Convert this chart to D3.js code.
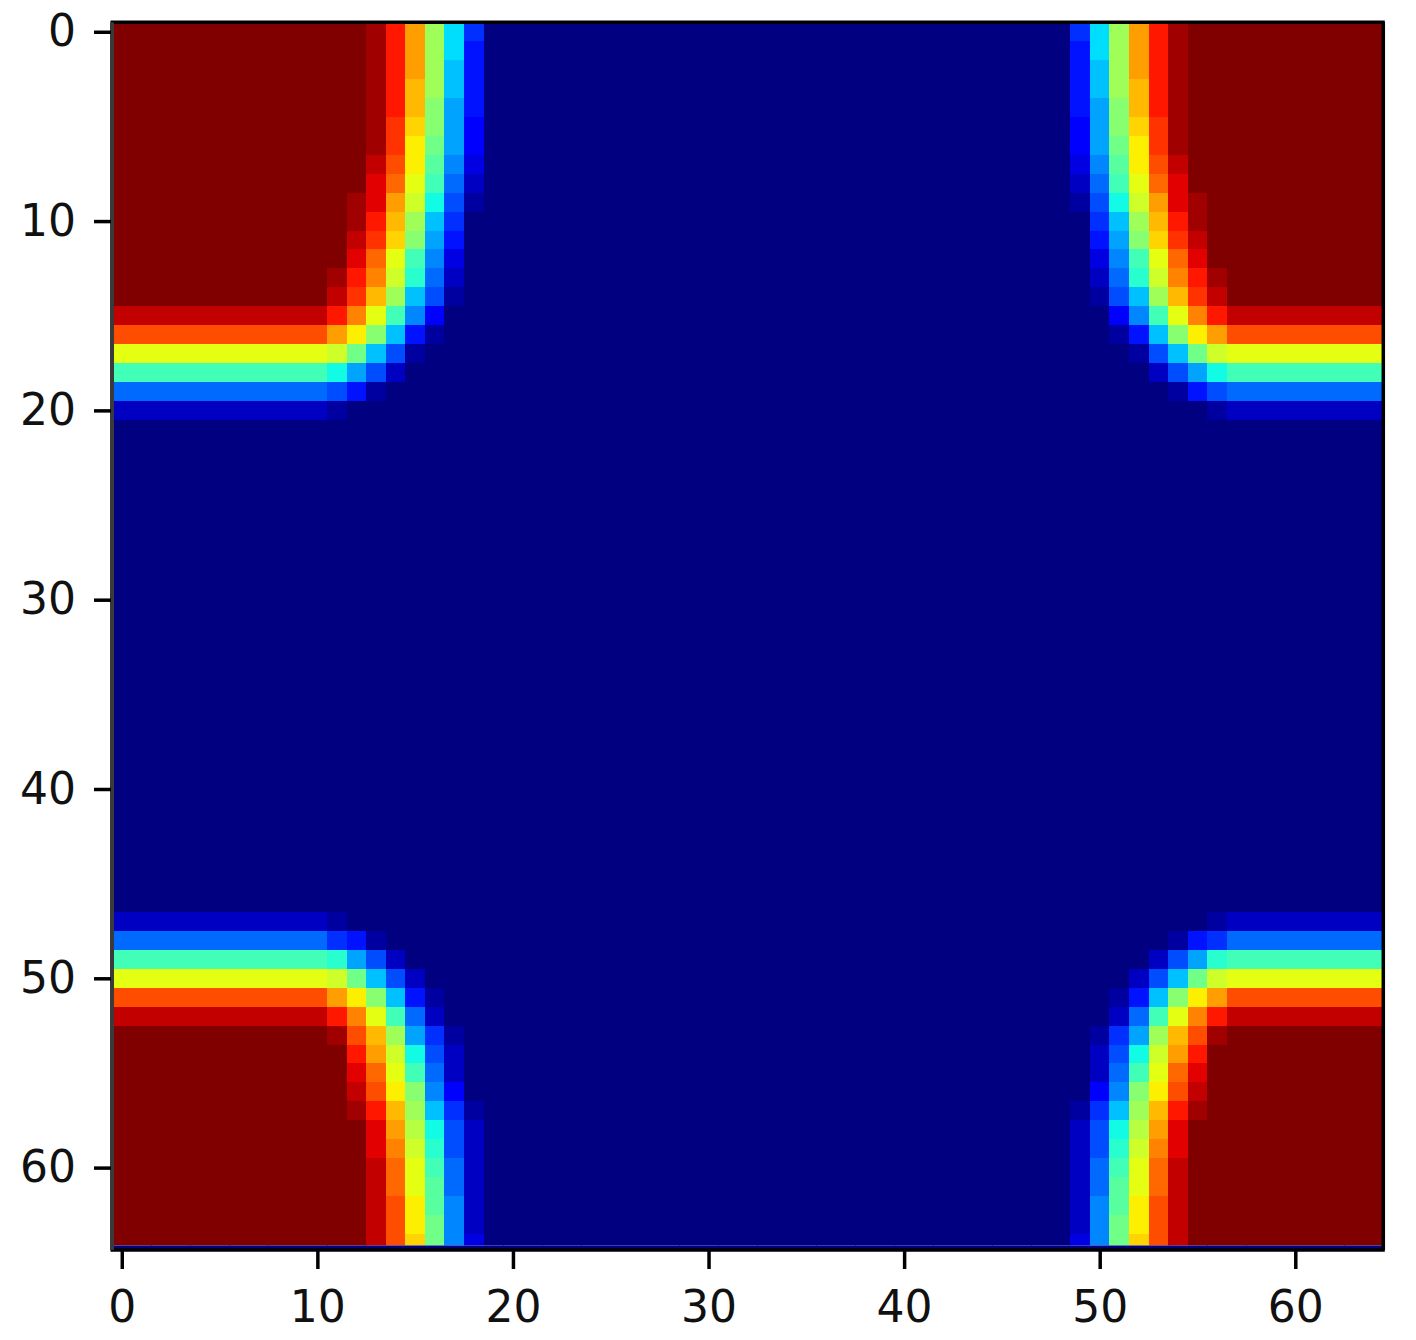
<!DOCTYPE html>
<html>
<head>
<meta charset="utf-8">
<script src="https://cdnjs.cloudflare.com/ajax/libs/d3/7.8.5/d3.min.js"></script>
<style>
    body { margin: 0; background: #fff; }
    .tick text { font-family: "DejaVu Sans", sans-serif; font-size: 44px; fill: #111; }
    .tick line { stroke: #000; stroke-width: 3.5px; }
</style>
</head>
<body>
<svg id="chart"></svg>
<script>
    const xTicks = [0, 10, 20, 30, 40, 50, 60];
    const yTicks = [0, 10, 20, 30, 40, 50, 60];

    // one string per image row (65 rows x 65 columns), one base-36 digit per cell:
    // 0 = lowest value (navy) ... z = highest value (dark red)
    const cellRows = [
        "zzzzzzzzzzzzzyvqjc60" + "0000000000000000000000000000" + "06cjqvyzzzzzzzzzz",
        "zzzzzzzzzzzzzyvqjc50" + "0000000000000000000000000000" + "05cjqvyzzzzzzzzzz",
        "zzzzzzzzzzzzzyvqjb50" + "0000000000000000000000000000" + "05bjqvyzzzzzzzzzz",
        "zzzzzzzzzzzzzyvpjb50" + "0000000000000000000000000000" + "05bjpvyzzzzzzzzzz",
        "zzzzzzzzzzzzzyvpia50" + "0000000000000000000000000000" + "05aipvyzzzzzzzzzz",
        "zzzzzzzzzzzzzyuoia40" + "0000000000000000000000000000" + "04aiouyzzzzzzzzzz",
        "zzzzzzzzzzzzzyunha40" + "0000000000000000000000000000" + "04ahnuyzzzzzzzzzz",
        "zzzzzzzzzzzzzxtng930" + "0000000000000000000000000000" + "039gntxzzzzzzzzzz",
        "zzzzzzzzzzzzzwsmf820" + "0000000000000000000000000000" + "028fmswzzzzzzzzzz",
        "zzzzzzzzzzzzywqld710" + "0000000000000000000000000000" + "017dlqwyzzzzzzzzz",
        "zzzzzzzzzzzzyvpjb600" + "0000000000000000000000000000" + "006bjpvyzzzzzzzzz",
        "zzzzzzzzzzzzxuoia500" + "0000000000000000000000000000" + "005aiouxzzzzzzzzz",
        "zzzzzzzzzzzzwsmf9300" + "0000000000000000000000000000" + "0039fmswzzzzzzzzz",
        "zzzzzzzzzzzyvrle8200" + "0000000000000000000000000000" + "0028elrvyzzzzzzzz",
        "zzzzzzzzzzzxupjb7100" + "0000000000000000000000000000" + "0017bjpuxzzzzzzzz",
        "xxxxxxxxxxxvrmf94000" + "0000000000000000000000000000" + "00049fmrvxxxxxxxx",
        "tttttttttttqnib51000" + "0000000000000000000000000000" + "00015binqtttttttt",
        "mmmmmmmmmmmlhb710000" + "0000000000000000000000000000" + "000017bhlmmmmmmmm",
        "fffffffffffda7200000" + "0000000000000000000000000000" + "0000027adffffffff",
        "88888888888751000000" + "0000000000000000000000000000" + "00000015788888888",
        "22222222222100000000" + "0000000000000000000000000000" + "00000000122222222",
        "00000000000000000000" + "0000000000000000000000000000" + "00000000000000000",
        "00000000000000000000" + "0000000000000000000000000000" + "00000000000000000",
        "00000000000000000000" + "0000000000000000000000000000" + "00000000000000000",
        "00000000000000000000" + "0000000000000000000000000000" + "00000000000000000",
        "00000000000000000000" + "0000000000000000000000000000" + "00000000000000000",
        "00000000000000000000" + "0000000000000000000000000000" + "00000000000000000",
        "00000000000000000000" + "0000000000000000000000000000" + "00000000000000000",
        "00000000000000000000" + "0000000000000000000000000000" + "00000000000000000",
        "00000000000000000000" + "0000000000000000000000000000" + "00000000000000000",
        "00000000000000000000" + "0000000000000000000000000000" + "00000000000000000",
        "00000000000000000000" + "0000000000000000000000000000" + "00000000000000000",
        "00000000000000000000" + "0000000000000000000000000000" + "00000000000000000",
        "00000000000000000000" + "0000000000000000000000000000" + "00000000000000000",
        "00000000000000000000" + "0000000000000000000000000000" + "00000000000000000",
        "00000000000000000000" + "0000000000000000000000000000" + "00000000000000000",
        "00000000000000000000" + "0000000000000000000000000000" + "00000000000000000",
        "00000000000000000000" + "0000000000000000000000000000" + "00000000000000000",
        "00000000000000000000" + "0000000000000000000000000000" + "00000000000000000",
        "00000000000000000000" + "0000000000000000000000000000" + "00000000000000000",
        "00000000000000000000" + "0000000000000000000000000000" + "00000000000000000",
        "00000000000000000000" + "0000000000000000000000000000" + "00000000000000000",
        "00000000000000000000" + "0000000000000000000000000000" + "00000000000000000",
        "00000000000000000000" + "0000000000000000000000000000" + "00000000000000000",
        "00000000000000000000" + "0000000000000000000000000000" + "00000000000000000",
        "00000000000000000000" + "0000000000000000000000000000" + "00000000000000000",
        "00000000000000000000" + "0000000000000000000000000000" + "00000000000000000",
        "22222222222100000000" + "0000000000000000000000000000" + "00000000122222222",
        "88888888888651000000" + "0000000000000000000000000000" + "00000015688888888",
        "fffffffffffea7200000" + "0000000000000000000000000000" + "0000027aeffffffff",
        "mmmmmmmmmmmlhb720000" + "0000000000000000000000000000" + "000027bhlmmmmmmmm",
        "tttttttttttqnib51000" + "0000000000000000000000000000" + "00015binqtttttttt",
        "xxxxxxxxxxxvrmf82000" + "0000000000000000000000000000" + "00028fmrvxxxxxxxx",
        "zzzzzzzzzzzytpja6100" + "0000000000000000000000000000" + "0016ajptyzzzzzzzz",
        "zzzzzzzzzzzzvqld7200" + "0000000000000000000000000000" + "0027dlqvzzzzzzzzz",
        "zzzzzzzzzzzzwsmf8200" + "0000000000000000000000000000" + "0028fmswzzzzzzzzz",
        "zzzzzzzzzzzzxtni9400" + "0000000000000000000000000000" + "0049intxzzzzzzzzz",
        "zzzzzzzzzzzzyvpjb610" + "0000000000000000000000000000" + "016bjpvyzzzzzzzzz",
        "zzzzzzzzzzzzzwqkd720" + "0000000000000000000000000000" + "027dkqwzzzzzzzzzz",
        "zzzzzzzzzzzzzwrle720" + "0000000000000000000000000000" + "027elrwzzzzzzzzzz",
        "zzzzzzzzzzzzzxsmf820" + "0000000000000000000000000000" + "028fmsxzzzzzzzzzz",
        "zzzzzzzzzzzzzxsmg820" + "0000000000000000000000000000" + "028gmsxzzzzzzzzzz",
        "zzzzzzzzzzzzzxtng920" + "0000000000000000000000000000" + "029gntxzzzzzzzzzz",
        "zzzzzzzzzzzzzxtnh920" + "0000000000000000000000000000" + "029hntxzzzzzzzzzz",
        "zzzzzzzzzzzzzxtoh930" + "0000000000000000000000000000" + "039hotxzzzzzzzzzz"
    ];

    const width = 1416;
    const height = 1340;

    const plotLeft = 112, plotRight = 1383.3, plotTop = 22.3;
    const imageBottom = 1245.5;   // last row is cut here
    const frameBottom = 1250;

    cellRows.forEach((row, i) => {
        if (row.length !== 65) console.log('row ' + i + ' has ' + row.length + ' cells');
    });

    const svg = d3.select('#chart')
        .attr('width', width).attr('height', height);

    const x = d3.scaleLinear().domain([-0.5, 64.5]).range([plotLeft, plotRight]);
    const y = d3.scaleLinear().domain([-0.5, 64.5]).range([plotTop, 1252.8]);

    const cells = [];
    cellRows.forEach((row, r) => {
        for (let c = 0; c < row.length; c++) {
            cells.push({ r: r, c: c, v: parseInt(row[c], 36) });
        }
    });

    const norm = d3.scaleLinear().domain(d3.extent(cells, d => d.v)).range([0, 1]);

    // matplotlib "jet"
    const jetR = d3.scaleLinear().domain([0, 0.35, 0.66, 0.89, 1]).range([0, 0, 1, 1, 0.5]);
    const jetG = d3.scaleLinear().domain([0, 0.125, 0.375, 0.64, 0.91, 1]).range([0, 0, 1, 1, 0, 0]);
    const jetB = d3.scaleLinear().domain([0, 0.11, 0.34, 0.65, 1]).range([0.5, 1, 1, 0, 0]);
    const jet = t => d3.rgb(jetR(t) * 255, jetG(t) * 255, jetB(t) * 255).formatHex();

    svg.append('defs').append('clipPath').attr('id', 'img-clip')
        .append('rect')
        .attr('x', plotLeft).attr('y', plotTop)
        .attr('width', plotRight - plotLeft).attr('height', imageBottom - plotTop);

    const image = svg.append('g').attr('clip-path', 'url(#img-clip)');

    image.selectAll('rect.cell')
        .data(cells)
        .enter().append('rect')
        .attr('class', 'cell')
        .attr('x', d => x(d.c - 0.5))
        .attr('y', d => y(d.r - 0.5))
        .attr('width', x(1) - x(0) + 0.4)
        .attr('height', y(1) - y(0) + 0.4)
        .attr('fill', d => jet(norm(d.v)))
        .attr('shape-rendering', 'crispEdges');

    // thin strip of the lowest colour under the last row
    svg.append('rect')
        .attr('x', plotLeft).attr('y', imageBottom)
        .attr('width', plotRight - plotLeft).attr('height', frameBottom - imageBottom)
        .attr('fill', jet(0));

    // frame
    svg.append('line').attr('x1', plotLeft - 1.5).attr('x2', plotRight + 1.5).attr('y1', plotTop).attr('y2', plotTop)
        .style('stroke', '#000').style('stroke-width', '3.5px');
    svg.append('line').attr('x1', plotLeft - 1.5).attr('x2', plotRight + 1.5).attr('y1', frameBottom).attr('y2', frameBottom)
        .style('stroke', '#000').style('stroke-width', '3.5px');
    svg.append('line').attr('x1', plotLeft).attr('x2', plotLeft).attr('y1', plotTop).attr('y2', frameBottom)
        .style('stroke', '#3a3a3a').style('stroke-width', '4px');
    svg.append('line').attr('x1', plotRight).attr('x2', plotRight).attr('y1', plotTop).attr('y2', frameBottom)
        .style('stroke', '#000').style('stroke-width', '3.5px');

    const yAxis = d3.axisLeft(y).tickValues(yTicks).tickSize(17).tickPadding(18);
    svg.append('g')
        .attr('transform', `translate(${plotLeft - 1},0)`)
        .call(yAxis)
        .call(g => g.select('.domain').remove());

    const xAxis = d3.axisBottom(x).tickValues(xTicks).tickSize(18).tickPadding(22);
    svg.append('g')
        .attr('transform', `translate(0,${frameBottom + 1})`)
        .call(xAxis)
        .call(g => g.select('.domain').remove());
</script>
</body>
</html>
